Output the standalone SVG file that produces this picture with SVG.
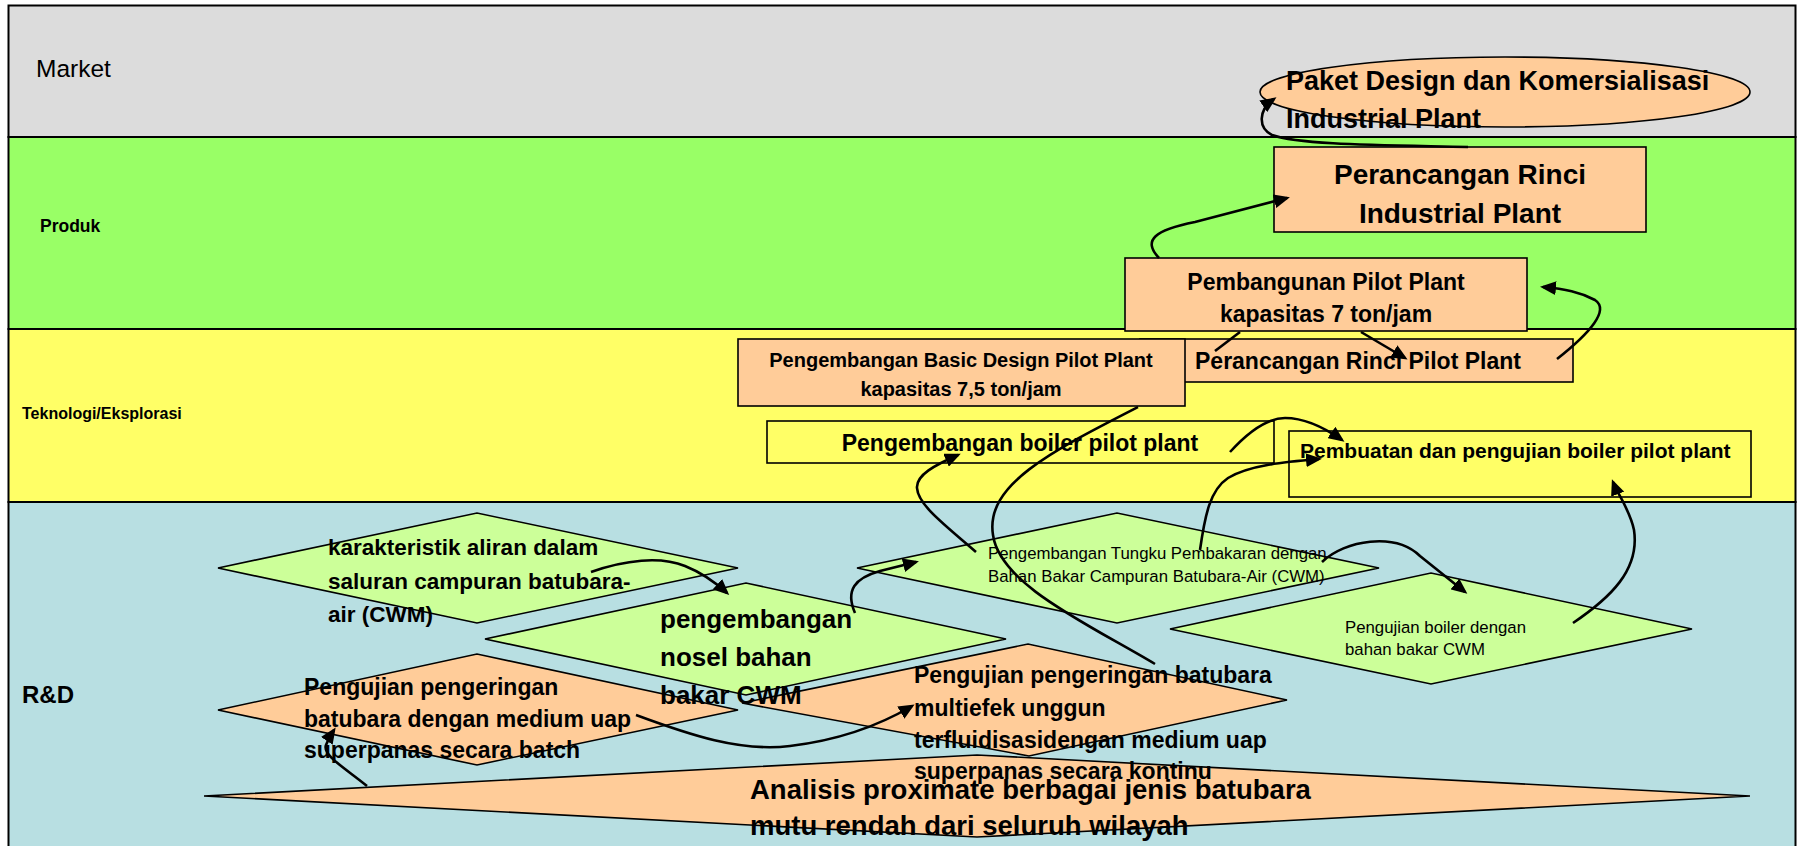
<svg xmlns="http://www.w3.org/2000/svg" width="1800" height="846" viewBox="0 0 1800 846">
<style>
text{font-family:"Liberation Sans",Arial,sans-serif;fill:#000}
.b{font-weight:bold}
.band{stroke:#000;stroke-width:2}
.box{fill:#FFCC99;stroke:#000;stroke-width:1.6}
.ybox{fill:#FFFF66;stroke:#000;stroke-width:1.6}
.gd{fill:#CCFF99;stroke:#000;stroke-width:1.6}
.pd{fill:#FFCC99;stroke:#000;stroke-width:1.6}
.c{fill:none;stroke:#000;stroke-width:2.6}
.m{text-anchor:middle}
</style>
<defs>
<marker id="ah" markerUnits="userSpaceOnUse" markerWidth="16" markerHeight="14" refX="13" refY="7" orient="auto">
<path d="M0,0 L16,7 L0,14 z" fill="#000"/>
</marker>
</defs>

<g id="bands">
<rect class="band" x="8.5" y="5.5" width="1787" height="131.5" fill="#DCDCDC"/>
<rect class="band" x="8.5" y="137" width="1787" height="192" fill="#99FF66"/>
<rect class="band" x="8.5" y="329" width="1787" height="173" fill="#FFFF66"/>
<rect class="band" x="8.5" y="502" width="1787" height="350" fill="#B8DFE2"/>
<text x="36" y="77" font-size="24.5">Market</text>
<text class="b" x="40" y="232" font-size="17.5">Produk</text>
<text class="b" x="22" y="419" font-size="16">Teknologi/Eksplorasi</text>
<text class="b" x="22" y="703" font-size="24">R&amp;D</text>
</g>

<g id="n-paket">
<ellipse class="pd" cx="1505" cy="92" rx="245" ry="35"/>
<text class="b" x="1286" y="90" font-size="27">Paket Design dan Komersialisasi</text>
<text class="b" x="1286" y="128" font-size="27">Industrial Plant</text>
</g>

<g id="n-rinci-industrial">
<rect class="box" x="1274" y="147" width="372" height="85"/>
<text class="b m" x="1460" y="184" font-size="28">Perancangan Rinci</text>
<text class="b m" x="1460" y="223" font-size="28">Industrial Plant</text>
</g>

<g id="n-pembangunan">
<rect class="box" x="1125" y="258" width="402" height="73"/>
<text class="b m" x="1326" y="290" font-size="23">Pembangunan Pilot Plant</text>
<text class="b m" x="1326" y="322" font-size="23">kapasitas 7 ton/jam</text>
</g>

<g id="n-rinci-pilot">
<rect class="box" x="1140" y="339" width="433" height="43"/>
<text class="b" x="1195" y="369" font-size="23">Perancangan Rinci Pilot Plant</text>
</g>

<g id="n-basic-design">
<rect class="box" x="738" y="339" width="447" height="67"/>
<text class="b m" x="961" y="367" font-size="20">Pengembangan Basic Design Pilot Plant</text>
<text class="b m" x="961" y="396" font-size="20">kapasitas 7,5 ton/jam</text>
</g>

<g id="n-boiler">
<rect class="ybox" x="767" y="421" width="507" height="42"/>
<text class="b m" x="1020" y="451" font-size="23">Pengembangan boiler pilot plant</text>
</g>

<g id="n-pembuatan">
<rect class="ybox" x="1289" y="431" width="462" height="66"/>
<text class="b" x="1300" y="458" font-size="21">Pembuatan dan pengujian boiler pilot plant</text>
</g>

<g id="n-analisis">
<polygon class="pd" points="204,796 977,755 1750,796 977,837"/>
<text class="b" x="750" y="799" font-size="27.5">Analisis proximate berbagai jenis batubara</text>
<text class="b" x="750" y="835" font-size="27.5">mutu rendah dari seluruh wilayah</text>
</g>

<g id="n-karakteristik">
<polygon class="gd" points="218,568 477,513 738,568 477,623"/>
<text class="b" x="328" y="555" font-size="22.5">karakteristik aliran dalam</text>
<text class="b" x="328" y="589" font-size="22.5">saluran campuran batubara-</text>
<text class="b" x="328" y="622" font-size="22.5">air (CWM)</text>
</g>

<g id="n-batch">
<polygon class="pd" points="218,710 477,654 738,710 477,765"/>
<text class="b" x="304" y="695" font-size="23">Pengujian pengeringan</text>
<text class="b" x="304" y="727" font-size="23">batubara dengan medium uap</text>
<text class="b" x="304" y="758" font-size="23">superpanas secara batch</text>
</g>

<g id="n-tungku">
<polygon class="gd" points="857,568 1117,513 1379,568 1117,623"/>
<text x="988" y="559" font-size="16.8">Pengembangan Tungku Pembakaran dengan</text>
<text x="988" y="582" font-size="16.8">Bahan Bakar Campuran Batubara-Air (CWM)</text>
</g>

<g id="n-uji-boiler">
<polygon class="gd" points="1170,629 1431,573 1692,629 1431,684"/>
<text x="1345" y="633" font-size="16.8">Pengujian boiler dengan</text>
<text x="1345" y="655" font-size="16.8">bahan bakar CWM</text>
</g>

<g id="n-multiefek">
<polygon class="pd" points="742,703 1028,644 1287,700 1029,756"/>
<text class="b" x="914" y="683" font-size="23">Pengujian pengeringan batubara</text>
<text class="b" x="914" y="716" font-size="23">multiefek unggun</text>
<text class="b" x="914" y="748" font-size="23">terfluidisasidengan medium uap</text>
<text class="b" x="914" y="779" font-size="23">superpanas secara kontinu</text>
</g>

<g id="n-nosel">
<polygon class="gd" points="485,639 746,583 1006,639 746,695"/>
<text class="b" x="660" y="628" font-size="26">pengembangan</text>
<text class="b" x="660" y="666" font-size="26">nosel bahan</text>
<text class="b" x="660" y="704" font-size="26">bakar CWM</text>
</g>

<g id="connectors">
<path class="c" marker-end="url(#ah)" d="M1468,147 C1380,145 1300,145 1272,135 C1258,128 1258,110 1274,99"/>
<path class="c" marker-end="url(#ah)" d="M1159,258 C1142,240 1155,230 1195,222 L1287,198"/>
<path class="c" marker-end="url(#ah)" d="M1557,359 C1590,333 1610,310 1595,300 C1580,292 1565,289 1543,287"/>
<path class="c" d="M1240,332 L1215,351"/>
<path class="c" marker-end="url(#ah)" d="M1361,332 L1405,358"/>
<path class="c" d="M1138,407 C1050,452 985,485 993,535 C1000,585 1090,625 1155,664"/>
<path class="c" marker-end="url(#ah)" d="M855,613 C845,590 855,578 880,571 L916,562"/>
<path class="c" marker-end="url(#ah)" d="M976,552 C945,525 918,505 917,488 C916,475 935,465 958,455"/>
<path class="c" marker-end="url(#ah)" d="M1230,452 C1250,430 1268,418 1285,418 C1305,418 1325,428 1342,440"/>
<path class="c" marker-end="url(#ah)" d="M1200,550 C1205,515 1210,490 1228,478 C1250,465 1285,462 1319,459"/>
<path class="c" marker-end="url(#ah)" d="M1322,562 C1345,540 1395,532 1420,556 L1465,592"/>
<path class="c" marker-end="url(#ah)" d="M1573,623 C1610,598 1640,570 1634,530 C1630,510 1618,495 1613,482"/>
<path class="c" marker-end="url(#ah)" d="M591,572 C625,560 660,556 685,566 C700,572 715,582 727,593"/>
<path class="c" marker-end="url(#ah)" d="M636,715 C690,735 740,752 790,746 C840,740 880,725 912,706"/>
<path class="c" marker-end="url(#ah)" d="M367,786 C345,768 322,755 326,745 C328,740 330,736 334,730"/>
</g>
</svg>
